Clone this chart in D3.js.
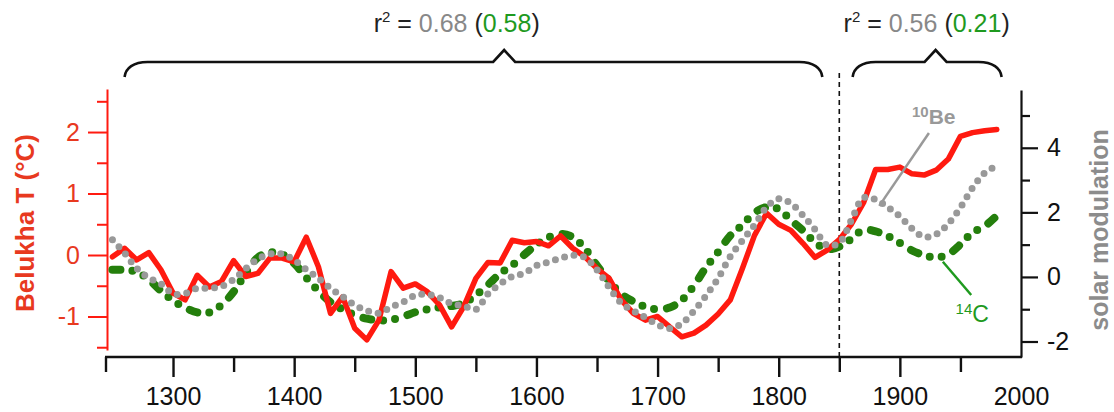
<!DOCTYPE html>
<html><head><meta charset="utf-8">
<script src="https://cdn.jsdelivr.net/npm/d3@7"></script>
<style>
html,body{margin:0;padding:0;background:#fff;}
svg{display:block;font-family:"Liberation Sans",Arial,Helvetica,sans-serif;}
</style></head><body>
<svg id="chart" width="1114" height="412"></svg>
<script>
// Decadal time axis (years AD)
const years = [1250,1260,1270,1280,1290,1300,1310,1320,1330,1340,
  1350,1360,1370,1380,1390,1400,1410,1420,1430,1440,
  1450,1460,1470,1480,1490,1500,1510,1520,1530,1540,
  1550,1560,1570,1580,1590,1600,1610,1620,1630,1640,
  1650,1660,1670,1680,1690,1700,1710,1720,1730,1740,
  1750,1760,1770,1780,1790,1800,1810,1820,1830,1840,
  1850,1860,1870,1880,1890,1900,1910,1920,1930,1940,
  1950,1960,1970,1980];

// Belukha ice-core temperature anomaly (°C, left axis)
const belukhaT = [-0.03,0.11,-0.08,0.04,-0.24,-0.62,-0.73,-0.33,-0.52,-0.43,
  -0.09,-0.35,-0.30,-0.05,-0.05,-0.11,0.29,-0.19,-0.95,-0.68,
  -1.19,-1.38,-1.06,-0.27,-0.54,-0.47,-0.60,-0.81,-1.17,-0.84,
  -0.38,-0.12,-0.13,0.24,0.20,0.22,0.15,0.31,0.11,-0.03,
  -0.22,-0.38,-0.73,-0.95,-1.06,-1.00,-1.17,-1.33,-1.27,-1.14,
  -0.96,-0.73,-0.22,0.32,0.68,0.50,0.40,0.19,-0.04,0.08,
  0.25,0.50,0.85,1.39,1.39,1.43,1.32,1.30,1.38,1.56,
  1.93,1.99,2.02,2.04];

// Solar modulation from 10Be (right axis)
const be10 = [1.15,0.74,0.27,-0.03,-0.21,-0.52,-0.51,-0.35,-0.35,-0.29,
  -0.08,0.26,0.55,0.71,0.71,0.52,0.23,-0.04,-0.35,-0.61,
  -0.87,-1.04,-1.12,-0.93,-0.78,-0.57,-0.54,-0.64,-0.83,-0.90,
  -1.01,-0.52,-0.22,0.01,0.11,0.35,0.46,0.58,0.67,0.60,
  0.22,-0.32,-0.81,-1.05,-1.26,-1.48,-1.60,-1.44,-1.05,-0.58,
  -0.04,0.63,1.13,1.61,2.16,2.42,2.28,1.91,1.47,0.98,
  1.06,1.76,2.45,2.40,2.16,1.88,1.50,1.24,1.32,1.65,
  2.15,2.76,3.22,3.44];

// Solar modulation from 14C (right axis)
const c14 = [0.22,0.22,0.15,-0.08,-0.43,-0.73,-0.95,-1.10,-1.10,-0.87,
  -0.46,0.11,0.60,0.76,0.70,0.42,-0.02,-0.43,-0.78,-1.01,
  -1.18,-1.29,-1.35,-1.33,-1.23,-1.09,-1.00,-0.94,-0.90,-0.81,
  -0.56,-0.25,0.11,0.36,0.69,1.00,1.23,1.33,1.23,0.88,
  0.35,-0.12,-0.53,-0.76,-0.93,-1.00,-0.95,-0.72,-0.27,0.30,
  0.77,1.28,1.61,1.99,2.16,2.10,1.76,1.44,1.07,0.86,
  0.94,1.18,1.46,1.41,1.27,1.05,0.82,0.67,0.60,0.70,
  1.01,1.37,1.57,1.90];

const xTicksMajor = [1300,1400,1500,1600,1700,1800,1900,2000];
const xTicksMinor = [1350,1450,1550,1650,1750,1850,1950];
const leftTicksMajor = [-1,0,1,2];
const leftTicksMinor = [-1.5,-0.5,0.5,1.5,2.5];
const rightTicksMajor = [-2,0,2,4];
const rightTicksMinor = [-1,1,3,5];

// Correlation periods and their r² (10Be, 14C)
const periodStart = [1260, 1861];
const periodEnd = [1836, 1984];
const r2Be = ["0.68", "0.56"];
const r2C = ["0.58", "0.21"];
const splitYear = 1850;

const RED = "#ff1a10", RED_TXT = "#e8391f", GRAY = "#999999", GRAY_TXT = "#8c8c8c",
      GREEN = "#247f0c", GREEN_TXT = "#1f9a1f", INK = "#111";

const svg = d3.select("#chart");

const x = d3.scaleLinear().domain([1245.5, 2000]).range([107, 1021]);
const yL = d3.scaleLinear().domain([-1.545, 2.7]).range([350, 89]);
const yR = d3.scaleLinear().domain([-2.48, 5.79]).range([357, 90]);

const fmt = d => String(d);

// ---- left axis (temperature) ----
const gL = svg.append("g").attr("transform", "translate(107,0)");
gL.call(d3.axisLeft(yL).tickValues(leftTicksMajor).tickSize(19).tickSizeOuter(0).tickPadding(8).tickFormat(fmt));
const gLm = svg.append("g").attr("transform", "translate(107,0)");
gLm.call(d3.axisLeft(yL).tickValues(leftTicksMinor).tickSize(10).tickSizeOuter(0).tickFormat(""));
gLm.select(".domain").remove();
[gL, gLm].forEach(g => {
  g.selectAll("path, line").attr("stroke", RED).attr("stroke-width", 2);
  g.selectAll("text").attr("fill", RED_TXT).attr("font-size", 25);
});

// ---- right axis (solar modulation) ----
const gR = svg.append("g").attr("transform", "translate(1021,0)");
gR.call(d3.axisRight(yR).tickValues(rightTicksMajor).tickSize(17).tickSizeOuter(0).tickPadding(9).tickFormat(fmt));
const gRm = svg.append("g").attr("transform", "translate(1021,0)");
gRm.call(d3.axisRight(yR).tickValues(rightTicksMinor).tickSize(9).tickSizeOuter(0).tickFormat(""));
gRm.select(".domain").remove();
[gR, gRm].forEach(g => {
  g.selectAll("path, line").attr("stroke", INK).attr("stroke-width", 2.2);
  g.selectAll("text").attr("fill", INK).attr("font-size", 25);
});

// ---- bottom axis (years) ----
const gB = svg.append("g").attr("transform", "translate(0,357)");
gB.call(d3.axisBottom(x).tickValues(xTicksMajor).tickSize(20).tickSizeOuter(0).tickPadding(10).tickFormat(fmt));
gB.selectAll(".tick").filter(d => d === 2000).select("line").remove();
const gBm = svg.append("g").attr("transform", "translate(0,357)");
gBm.call(d3.axisBottom(x).tickValues(xTicksMinor).tickSize(15).tickSizeOuter(0).tickFormat(""));
gBm.select(".domain").remove();
[gB, gBm].forEach(g => {
  g.selectAll("path, line").attr("stroke", INK).attr("stroke-width", 2.4);
  g.selectAll("text").attr("fill", INK).attr("font-size", 25);
});
// corner tick at the start of the time axis
gB.append("line").attr("x1", x(1245.5) - 1).attr("x2", x(1245.5) - 1)
  .attr("y1", 0).attr("y2", 15).attr("stroke", INK).attr("stroke-width", 2.4);
gB.select(".domain").attr("d", `M${x(1245.5) - 2},0H${x(2000) + 1}`);

// ---- period split ----
svg.append("line")
  .attr("x1", x(splitYear)).attr("x2", x(splitYear))
  .attr("y1", 73).attr("y2", 357)
  .attr("stroke", INK).attr("stroke-width", 1.6).attr("stroke-dasharray", "5 4");

// ---- series ----
const pts = vals => years.map((yr, i) => [yr, vals[i]]);

const lineR = d3.line().x(d => x(d[0])).y(d => yR(d[1])).curve(d3.curveCatmullRom.alpha(0.5));
const lineL = d3.line().x(d => x(d[0])).y(d => yL(d[1]));

svg.append("path").datum(pts(c14)).attr("d", lineR)
  .attr("fill", "none").attr("stroke", GREEN).attr("stroke-width", 8)
  .attr("stroke-linecap", "round").attr("stroke-dasharray", "8 12 0 12 0 13");

svg.append("path").datum(pts(belukhaT)).attr("d", lineL)
  .attr("fill", "none").attr("stroke", RED).attr("stroke-width", 5.5)
  .attr("stroke-linejoin", "round").attr("stroke-linecap", "round");

svg.append("path").datum(pts(be10)).attr("d", lineR)
  .attr("fill", "none").attr("stroke", GRAY).attr("stroke-width", 7)
  .attr("stroke-linecap", "round").attr("stroke-dasharray", "0 9.6");

// ---- series labels ----
svg.append("line")
  .attr("x1", x(1883)).attr("y1", yR(2.2))
  .attr("x2", x(1924)).attr("y2", yR(4.46))
  .attr("stroke", GRAY).attr("stroke-width", 2.5);
const tBe = svg.append("text").attr("x", x(1910)).attr("y", 124)
  .attr("fill", GRAY).attr("font-weight", "bold");
tBe.append("tspan").attr("font-size", 15).attr("dy", -7).text("10");
tBe.append("tspan").attr("font-size", 21).attr("dy", 7).text("Be");

svg.append("line")
  .attr("x1", x(1935.5)).attr("y1", yR(0.47))
  .attr("x2", x(1958.9)).attr("y2", yR(-0.56))
  .attr("stroke", GREEN_TXT).attr("stroke-width", 2.5);
const tC = svg.append("text").attr("x", x(1946)).attr("y", 322)
  .attr("fill", GREEN_TXT);
tC.append("tspan").attr("font-size", 15).attr("dy", -8).text("14");
tC.append("tspan").attr("font-size", 23).attr("dy", 8).text("C");

// ---- axis titles ----
svg.append("text").attr("transform", "translate(25,223) rotate(-90)")
  .attr("text-anchor", "middle").attr("dominant-baseline", "central")
  .attr("font-size", 26).attr("font-weight", "bold").attr("fill", RED_TXT)
  .text("Belukha T (°C)");
svg.append("text").attr("transform", "translate(1099,230) rotate(-90)")
  .attr("text-anchor", "middle").attr("dominant-baseline", "central")
  .attr("font-size", 25).attr("font-weight", "bold").attr("fill", GRAY_TXT)
  .text("solar modulation");

// ---- correlation braces ----
const tipFrac = [0.544, 0.557];
const labelFrac = [0.476, 0.497];
periodStart.forEach((s, i) => {
  const x0 = x(s), x1 = x(periodEnd[i]);
  const tip = x0 + tipFrac[i] * (x1 - x0);
  const yb = 62, hw = 11;
  const p = d3.path();
  p.moveTo(x0, yb + 15);
  p.bezierCurveTo(x0 + 1, yb + 6, x0 + 9, yb, x0 + 23, yb);
  p.lineTo(tip - hw, yb);
  p.lineTo(tip, yb - 12);
  p.lineTo(tip + hw, yb);
  p.lineTo(x1 - 23, yb);
  p.bezierCurveTo(x1 - 9, yb, x1 - 1, yb + 6, x1, yb + 15);
  svg.append("path").attr("d", p.toString()).attr("fill", "none")
    .attr("stroke", INK).attr("stroke-width", 2.6);

  const t = svg.append("text").attr("x", x0 + labelFrac[i] * (x1 - x0)).attr("y", 32)
    .attr("text-anchor", "middle").attr("font-size", 25).attr("fill", "#222")
    .style("white-space", "pre");
  t.append("tspan").text("r");
  t.append("tspan").attr("font-size", 15).attr("dy", -10).text("2");
  t.append("tspan").attr("dy", 10).text(" = ");
  t.append("tspan").attr("fill", "#888").text(r2Be[i]);
  t.append("tspan").text(" (");
  t.append("tspan").attr("fill", GREEN_TXT).text(r2C[i]);
  t.append("tspan").text(")");
});
</script>
</body></html>
